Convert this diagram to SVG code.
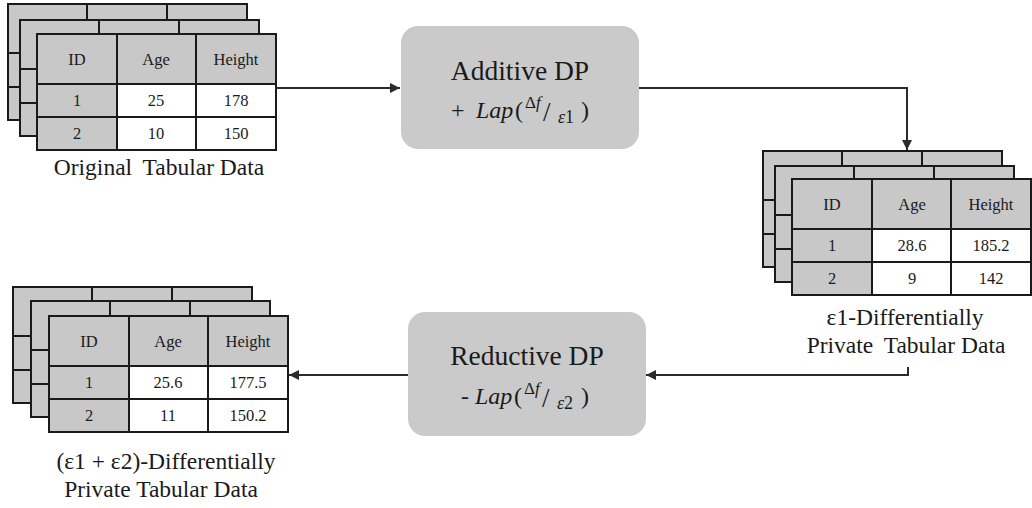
<svg xmlns="http://www.w3.org/2000/svg" width="1032" height="508" viewBox="0 0 1032 508">
<style>
.t{font-family:"Liberation Serif","Times New Roman",serif;fill:#1a1a1a}
.cell{font-size:16.5px;text-anchor:middle}
.lbl{font-size:23.5px;text-anchor:middle}
.box{fill:#cacaca;stroke:none}
.bt{font-size:27.5px;text-anchor:middle}
.m{font-family:"Liberation Serif","Times New Roman",serif;fill:#1a1a1a;font-size:24px}
.mi{font-style:italic}
.sup{font-size:17px}
.sub{font-size:18px}
.sl{font-size:27px}
.conn{fill:none;stroke:#2b2b2b;stroke-width:2}
.g{fill:#c8c8c8}
.w{fill:#ffffff}
.ln{stroke:#1a1a1a;stroke-width:2;fill:none}
</style>
<defs>
<marker id="ah" viewBox="0 0 10 10" refX="10" refY="5" markerWidth="10" markerHeight="10" markerUnits="userSpaceOnUse" orient="auto">
<path d="M0,0 L10,5 L0,10 z" fill="#2b2b2b"/>
</marker>
<g id="back">
<rect x="0" y="0" width="239" height="116" class="g"/>
<path class="ln" d="M0,0 H239 V116 H0 Z M79,0 V116 M159,0 V116 M0,49 H239 M0,83 H239"/>
</g>
<g id="front">
<rect x="0" y="0" width="239" height="116" class="w"/>
<rect x="0" y="0" width="239" height="50" class="g"/>
<rect x="0" y="50" width="80" height="66" class="g"/>
<path class="ln" d="M0,0 H239 V116 H0 Z M80,0 V116 M159,0 V116 M0,50 H239 M0,83 H239"/>
</g>
</defs>

<g id="connectors">
<path class="conn" d="M276,88 H400" marker-end="url(#ah)"/>
<path class="conn" d="M639,88 H907 V150" marker-end="url(#ah)"/>
<path class="conn" d="M908,367 V375 H646" marker-end="url(#ah)"/>
<path class="conn" d="M408,375 H289" marker-end="url(#ah)"/>
</g>

<g id="table-original">
<use href="#back" x="8" y="4"/>
<use href="#back" x="20" y="20"/>
<use href="#front" x="37" y="34"/>
<g class="t cell">
<text x="77" y="65">ID</text><text x="156" y="65">Age</text><text x="236" y="65">Height</text>
<text x="77" y="106">1</text><text x="156" y="106">25</text><text x="236" y="106">178</text>
<text x="77" y="139">2</text><text x="156" y="139">10</text><text x="236" y="139">150</text>
</g>
<text class="t lbl" x="159" y="175">Original <tspan dx="5">Tabular Data</tspan></text>
</g>

<g id="additive-dp">
<rect class="box" x="401" y="26" width="238" height="123" rx="17"/>
<text class="t bt" x="520" y="80">Additive DP</text>
<text class="m" y="118"><tspan x="451">+</tspan><tspan x="476" class="mi">Lap</tspan><tspan x="515">(</tspan><tspan x="525" y="108" class="sup">Δ<tspan class="mi">f</tspan></tspan><tspan x="543" y="121" class="sl">/</tspan><tspan x="558" y="123" class="sub mi">ε<tspan style="font-style:normal">1</tspan></tspan><tspan x="581" y="118">)</tspan></text>
</g>

<g id="table-eps1">
<use href="#back" x="763" y="151"/>
<use href="#back" x="775" y="166"/>
<use href="#front" x="792" y="179"/>
<g class="t cell">
<text x="832" y="210">ID</text><text x="912" y="210">Age</text><text x="991" y="210">Height</text>
<text x="832" y="251">1</text><text x="912" y="251">28.6</text><text x="991" y="251">185.2</text>
<text x="832" y="284">2</text><text x="912" y="284">9</text><text x="991" y="284">142</text>
</g>
<text class="t lbl" x="905" y="325">ε1-Differentially</text>
<text class="t lbl" x="906" y="353">Private <tspan dx="5">Tabular Data</tspan></text>
</g>

<g id="reductive-dp">
<rect class="box" x="408" y="312" width="238" height="124" rx="17"/>
<text class="t bt" x="527" y="365">Reductive DP</text>
<text class="m" y="404"><tspan x="461">-</tspan><tspan x="475" class="mi">Lap</tspan><tspan x="514">(</tspan><tspan x="524" y="394" class="sup">Δ<tspan class="mi">f</tspan></tspan><tspan x="542" y="407" class="sl">/</tspan><tspan x="557" y="409" class="sub mi">ε<tspan style="font-style:normal">2</tspan></tspan><tspan x="581" y="404">)</tspan></text>
</g>

<g id="table-eps12">
<use href="#back" x="13" y="287"/>
<use href="#back" x="31" y="301"/>
<use href="#front" x="49" y="316"/>
<g class="t cell">
<text x="89" y="347">ID</text><text x="168" y="347">Age</text><text x="248" y="347">Height</text>
<text x="89" y="388">1</text><text x="168" y="388">25.6</text><text x="248" y="388">177.5</text>
<text x="89" y="421">2</text><text x="168" y="421">11</text><text x="248" y="421">150.2</text>
</g>
<text class="t lbl" x="166" y="469">(ε1 + ε2)-Differentially</text>
<text class="t lbl" x="161" y="497">Private Tabular Data</text>
</g>
</svg>
